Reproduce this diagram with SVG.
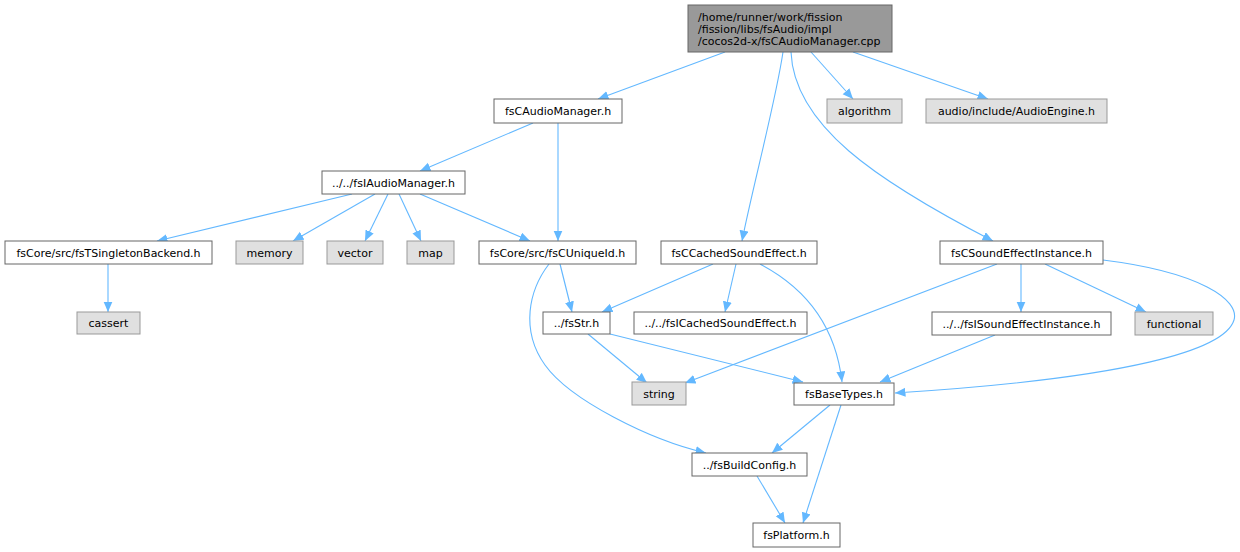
<svg xmlns="http://www.w3.org/2000/svg" width="1240" height="552" viewBox="0 0 1240 552">
<defs>
<marker id="ah" markerUnits="userSpaceOnUse" markerWidth="12" markerHeight="10" refX="10.5" refY="4.5" orient="auto">
<path d="M0,0 L10.5,4.5 L0,9 z" fill="#63b8ff"/>
</marker>
<style>
.n rect{fill:#ffffff;stroke:#666666;stroke-width:1}
.s rect{fill:#e0e0e0;stroke:#999999;stroke-width:1}
.r rect{fill:#999999;stroke:#666666;stroke-width:1}
text{font-family:"DejaVu Sans","Liberation Sans",sans-serif;font-size:11px;fill:#000000}
.c{text-anchor:middle}
#edges path{fill:none;stroke:#63b8ff;stroke-width:1.1;marker-end:url(#ah)}
</style>
</defs>
<rect width="1240" height="552" fill="#ffffff"/>
<g id="edges">
<path d="M725,52 L598,99"/>
<path d="M783,52 C776,100 752,190 742,241"/>
<path d="M791,52 C794,125 875,180 993,241"/>
<path d="M811,52 L853,99"/>
<path d="M853,52 L988,99"/>
<path d="M533,123 L420,171"/>
<path d="M558,123 L558,241"/>
<path d="M352,194 L157,241"/>
<path d="M375,194 L293,241"/>
<path d="M388,194 L365,241"/>
<path d="M399,194 L421,241"/>
<path d="M420,194 L530,241"/>
<path d="M108,264 L108,312"/>
<path d="M560,264 L572,312"/>
<path d="M549,264 C529,290 520,330 545,365 C570,400 650,440 706,453"/>
<path d="M713,264 L602,312"/>
<path d="M736,264 L725,312"/>
<path d="M760,264 C800,285 835,320 842,382"/>
<path d="M588,334 L647,383"/>
<path d="M610,334 L803,382"/>
<path d="M997,264 L685,383"/>
<path d="M1021,264 L1021,312"/>
<path d="M1045,264 L1146,312"/>
<path d="M1103,260 C1200,272 1240,300 1234,320 C1225,350 1130,378 895,393"/>
<path d="M995,335 L880,382"/>
<path d="M830,405 L772,453"/>
<path d="M841,405 L803,523"/>
<path d="M757,476 L785,523"/>
</g>
<g id="node_root" class="r">
<rect x="688" y="5" width="204" height="47"/>
<text x="698" y="20.5">/home/runner/work/fission</text>
<text x="698" y="32.5">/fission/libs/fsAudio/impl</text>
<text x="698" y="44.5">/cocos2d-x/fsCAudioManager.cpp</text>
</g>
<g id="node_fsCAudioManager" class="n"><rect x="494" y="99" width="128" height="24"/><text class="c" x="558" y="115">fsCAudioManager.h</text></g>
<g id="node_algorithm" class="s"><rect x="827" y="99" width="75" height="24"/><text class="c" x="864.5" y="115">algorithm</text></g>
<g id="node_AudioEngine" class="s"><rect x="926" y="99" width="181" height="24"/><text class="c" x="1016.5" y="115">audio/include/AudioEngine.h</text></g>
<g id="node_fsIAudioManager" class="n"><rect x="322" y="171" width="143" height="23"/><text class="c" x="393.5" y="186.5">../../fsIAudioManager.h</text></g>
<g id="node_fsTSingletonBackend" class="n"><rect x="5" y="241" width="207" height="23"/><text class="c" x="108.5" y="256.5">fsCore/src/fsTSingletonBackend.h</text></g>
<g id="node_memory" class="s"><rect x="236" y="241" width="67" height="23"/><text class="c" x="269.5" y="256.5">memory</text></g>
<g id="node_vector" class="s"><rect x="327" y="241" width="56" height="23"/><text class="c" x="355" y="256.5">vector</text></g>
<g id="node_map" class="s"><rect x="407" y="241" width="47" height="23"/><text class="c" x="430.5" y="256.5">map</text></g>
<g id="node_fsCUniqueId" class="n"><rect x="479" y="241" width="157" height="23"/><text class="c" x="557.5" y="256.5">fsCore/src/fsCUniqueId.h</text></g>
<g id="node_fsCCachedSoundEffect" class="n"><rect x="661" y="241" width="156" height="23"/><text class="c" x="739" y="256.5">fsCCachedSoundEffect.h</text></g>
<g id="node_fsCSoundEffectInstance" class="n"><rect x="940" y="241" width="163" height="23"/><text class="c" x="1021.5" y="256.5">fsCSoundEffectInstance.h</text></g>
<g id="node_cassert" class="s"><rect x="77" y="312" width="63" height="22"/><text class="c" x="108.5" y="327">cassert</text></g>
<g id="node_fsStr" class="n"><rect x="543" y="312" width="67" height="22"/><text class="c" x="576.5" y="327">../fsStr.h</text></g>
<g id="node_fsICachedSoundEffect" class="n"><rect x="634" y="312" width="173" height="22"/><text class="c" x="720.5" y="327">../../fsICachedSoundEffect.h</text></g>
<g id="node_fsISoundEffectInstance" class="n"><rect x="932" y="312" width="179" height="23"/><text class="c" x="1021.5" y="327.5">../../fsISoundEffectInstance.h</text></g>
<g id="node_functional" class="s"><rect x="1135" y="312" width="78" height="23"/><text class="c" x="1174" y="327.5">functional</text></g>
<g id="node_string" class="s"><rect x="632" y="382" width="54" height="23"/><text class="c" x="659" y="397.5">string</text></g>
<g id="node_fsBaseTypes" class="n"><rect x="794" y="383" width="100" height="22"/><text class="c" x="844" y="398">fsBaseTypes.h</text></g>
<g id="node_fsBuildConfig" class="n"><rect x="692" y="453" width="115" height="23"/><text class="c" x="749.5" y="468.5">../fsBuildConfig.h</text></g>
<g id="node_fsPlatform" class="n"><rect x="753" y="523" width="87" height="24"/><text class="c" x="796.5" y="539">fsPlatform.h</text></g>
</svg>
